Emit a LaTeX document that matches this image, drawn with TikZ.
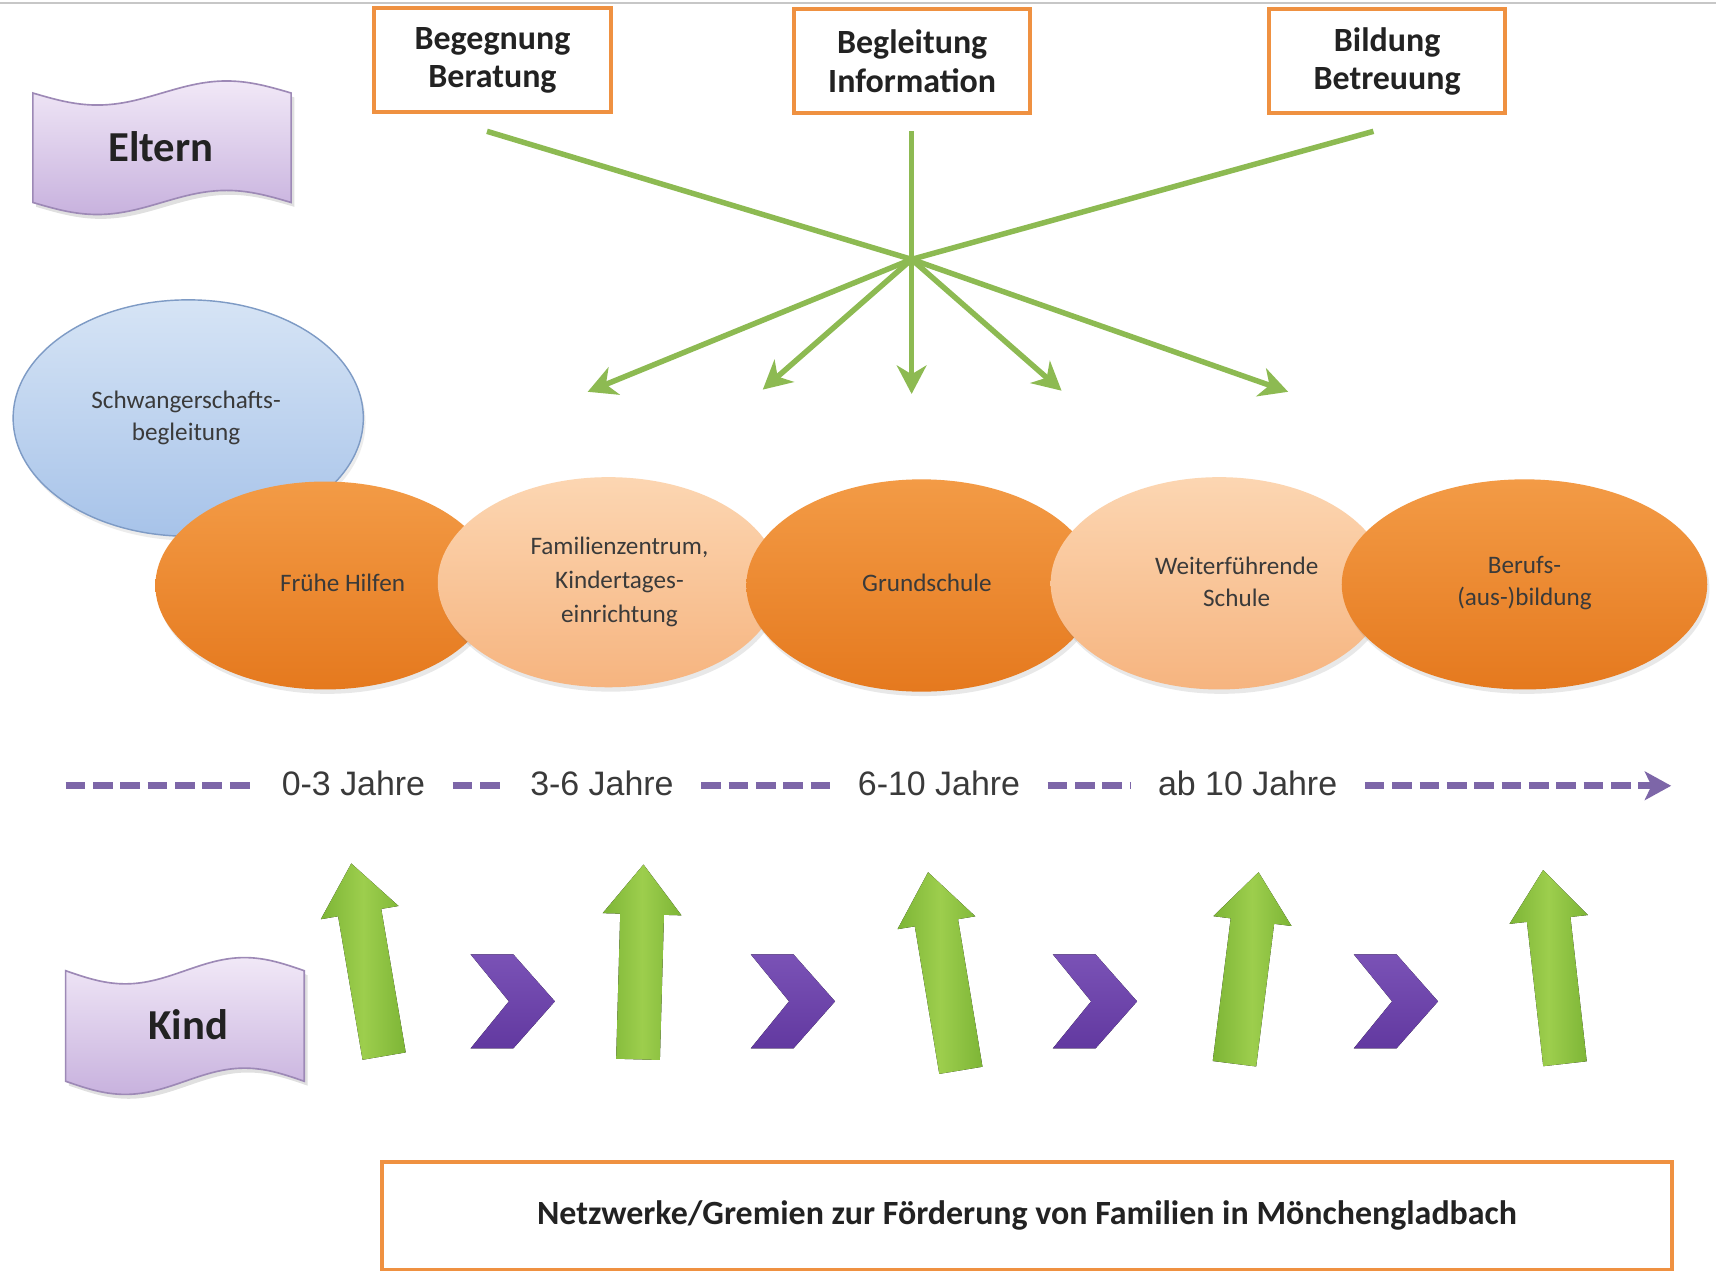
\documentclass[tikz,border=0pt]{standalone}
\usepackage{fontspec}
\setmainfont{Carlito}
\newfontfamily\arialf{Liberation Sans}
\usetikzlibrary{arrows.meta,calc,shadows,shapes.geometric}

\definecolor{boxorange}{HTML}{EF9141}
\definecolor{lnGreen}{HTML}{8DBA52}
\definecolor{arrGreenA}{HTML}{7DB536}
\definecolor{arrGreenB}{HTML}{9DCE4D}
\definecolor{tlPurple}{HTML}{7D66A8}
\definecolor{chevA}{HTML}{7A52B6}
\definecolor{chevB}{HTML}{6239A0}
\definecolor{darkOrA}{HTML}{F39B46}
\definecolor{darkOrB}{HTML}{E5791E}
\definecolor{lightOrA}{HTML}{FCD6B2}
\definecolor{lightOrB}{HTML}{F6B47F}
\definecolor{blueA}{HTML}{D6E4F5}
\definecolor{blueB}{HTML}{A7C3E9}
\definecolor{blueLine}{HTML}{7E9BC5}
\definecolor{lavA}{HTML}{F1E8F7}
\definecolor{lavB}{HTML}{C8B2DE}
\definecolor{lavLine}{HTML}{9D89B6}
\definecolor{txtDark}{HTML}{222222}
\definecolor{txtMid}{HTML}{3A3A3A}

% punched-tape outline: left, top, width, height, amplitude
\newcommand\tapepath[5]{(#1,#2+#5) sin (#1+#3/4,#2+2*#5) cos (#1+#3/2,#2+#5) sin (#1+3*#3/4,#2) cos (#1+#3,#2+#5)
 -- (#1+#3,#2+#4-#5) sin (#1+3*#3/4,#2+#4-2*#5) cos (#1+#3/2,#2+#4-#5) sin (#1+#3/4,#2+#4) cos (#1,#2+#4-#5) -- cycle}

% green block arrow: name, base, tip
\newcommand\blockarrow[3]{%
 \coordinate (#1b) at #2; \coordinate (#1t) at #3;
 \coordinate (#1h) at ($(#1b)!0.745!(#1t)$);
 \fill[blockfill] ($(#1b)!20pt!90:(#1t)$) -- ($(#1h)!20pt!90:(#1t)$) -- ($(#1h)!36pt!90:(#1t)$) -- (#1t)
   -- ($(#1h)!36pt!-90:(#1t)$) -- ($(#1h)!20pt!-90:(#1t)$) -- ($(#1b)!20pt!-90:(#1t)$) -- cycle;}

% purple chevron: left, top
\newcommand\chevron[2]{%
 \fill[chevfill] (#1,#2) -- (#1+39,#2) -- (#1+77,#2+43) -- (#1+39,#2+86) -- (#1,#2+86) -- (#1+35,#2+43) -- cycle;}

\begin{document}
\begin{tikzpicture}[x=1pt,y=-1pt,
 topbox/.style={draw=boxorange, line width=3.5pt, fill=white, minimum width=216pt, minimum height=95pt,
   inner sep=0pt, align=center, text=txtDark, font=\bfseries\fontsize{31}{35}\selectfont},
 gline/.style={draw=lnGreen, line width=5pt},
 ghead/.style={-{Stealth[length=26pt,width=27pt,inset=8pt]}},
 ovalbase/.style={ellipse, inner sep=0pt, drop shadow={shadow xshift=2pt, shadow yshift=-4pt, opacity=0.18}},
 darkoval/.style={ovalbase, top color=darkOrA, bottom color=darkOrB},
 lightoval/.style={ovalbase, top color=lightOrA, bottom color=lightOrB},
 ovaltext/.style={align=center, text=txtMid, font=\fontsize{23}{29}\selectfont},
 tltext/.style={text=txtMid, font=\arialf\fontsize{31}{35}\selectfont, inner xsep=25pt, inner ysep=0pt},
 tlline/.style={draw=tlPurple, line width=6pt, dash pattern=on 18pt off 7pt},
 tapefill/.style={top color=lavA, bottom color=lavB, draw=lavLine, line width=1.5pt},
 tapetext/.style={text=txtDark, font=\bfseries\fontsize{39}{44}\selectfont},
 blockfill/.style={left color=arrGreenA, right color=arrGreenA, middle color=arrGreenB},
 chevfill/.style={top color=chevA, bottom color=chevB},
]
\useasboundingbox (0,0) rectangle (1568,1166);
\fill[white] (0,0) rectangle (1568,1166);
\draw[black!22, line width=1.5pt] (0,3) -- (1568,3);

% top boxes
\node[topbox] (beg) at (450,55) {Begegnung\\Beratung};
\node[topbox] (bgl) at (833.5,56) {Begleitung\\Information};
\node[topbox] (bil) at (1267.5,56) {Bildung\\Betreuung};

% Eltern
\fill[black, opacity=0.12] [xshift=3pt, yshift=-4pt] \tapepath{30}{74}{236}{122}{11};
\filldraw[tapefill] \tapepath{30}{74}{236}{122}{11};
\node[tapetext] (eltern) at (147,134) {Eltern};

% green star of lines
\coordinate (hub) at (833,237);
\coordinate (s1) at (445,120);
\coordinate (s2) at (833,120);
\coordinate (s3) at (1255,120);
\coordinate (e1) at (537,358);
\coordinate (e2) at (697,356);
\coordinate (e3) at (833,360);
\coordinate (e4) at (970,357);
\coordinate (e5) at (1177,358);
\draw[gline] (s1) -- (hub);
\draw[gline] (s2) -- (hub);
\draw[gline] (s3) -- (hub);
\foreach \e in {e1,e2,e3,e4,e5} \draw[gline, ghead] (hub) -- (\e);

% ellipses
\node[ellipse, inner sep=0pt, minimum width=320pt, minimum height=216pt, top color=blueA, bottom color=blueB,
      draw=blueLine, line width=1.3pt, drop shadow={shadow xshift=2pt, shadow yshift=-4pt, opacity=0.15}] (schw) at (172,382) {};
\node[ovaltext] (schwT) at (170,382) {Schwangerschafts-\\begleitung};

\node[darkoval, minimum width=310pt, minimum height=190pt] (fh) at (297,535) {};
\node[lightoval, minimum width=312pt, minimum height=192pt] (fz) at (556,532) {};
\node[darkoval, minimum width=320pt, minimum height=194pt] (gs) at (842,535) {};
\node[lightoval, minimum width=308pt, minimum height=194pt] (ws) at (1114,533) {};
\node[darkoval, minimum width=334pt, minimum height=192pt] (bb) at (1393,534) {};

\node[ovaltext] (fhT) at (313,533) {Frühe Hilfen};
\node[ovaltext, font=\fontsize{23}{31}\selectfont] (fzT) at (566,532) {Familienzentrum,\\Kindertages-\\einrichtung};
\node[ovaltext] (gsT) at (847,533) {Grundschule};
\node[ovaltext] (wsT) at (1130,532) {Weiterführende\\Schule};
\node[ovaltext] (bbT) at (1393,533) {Berufs-\\(aus-)bildung};

% timeline
\coordinate (tl0) at (60,718);
\coordinate (tlend) at (1527,718);
\node[tltext] (t1) at (323,716) {0-3 Jahre};
\node[tltext] (t2) at (550,716) {3-6 Jahre};
\node[tltext] (t3) at (858,716) {6-10 Jahre};
\node[tltext] (t4) at (1140,716) {ab 10 Jahre};
\draw[tlline] (tl0) -- (t1.west |- tl0);
\draw[tlline] (t1.east |- tl0) -- (t2.west |- tl0);
\draw[tlline] (t2.east |- tl0) -- (t3.west |- tl0);
\draw[tlline] (t3.east |- tl0) -- (t4.west |- tl0);
\draw[tlline, -{Stealth[length=24pt,width=26pt,inset=6pt]}] (t4.east |- tl0) -- (tlend);

% Kind
\fill[black, opacity=0.12] [xshift=3pt, yshift=-4pt] \tapepath{60}{875}{218}{125}{12};
\filldraw[tapefill] \tapepath{60}{875}{218}{125}{12};
\node[tapetext] (kind) at (172,936) {Kind};

% green block arrows
\blockarrow{a1}{(351,965)}{(321,789)}
\blockarrow{a2}{(583,968)}{(588,790)}
\blockarrow{a3}{(878,978)}{(848,797)}
\blockarrow{a4}{(1128,972)}{(1150,797)}
\blockarrow{a5}{(1430,972)}{(1410,795)}

% purple chevrons
\chevron{430}{872}
\chevron{686}{872}
\chevron{962}{872}
\chevron{1237}{872}

% bottom box
\node[draw=boxorange, line width=3.5pt, fill=white, minimum width=1179pt, minimum height=98pt, inner sep=0pt,
      text=txtDark, font=\bfseries\fontsize{31}{35}\selectfont] (netz) at (938.5,1111)
      {Netzwerke/Gremien zur Förderung von Familien in Mönchengladbach};
\end{tikzpicture}
\end{document}
